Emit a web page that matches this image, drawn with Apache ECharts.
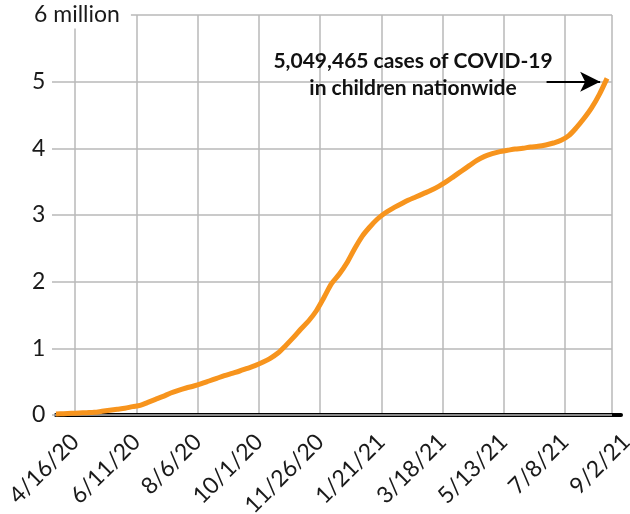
<!DOCTYPE html>
<html><head><meta charset="utf-8">
<script src="https://cdn.jsdelivr.net/npm/echarts@6/dist/echarts.min.js"></script>
<style>html,body{margin:0;padding:0;background:#fff}#c{width:630px;height:514px}</style>
</head><body><div id="c"></div>
<script>
// Cumulative child COVID-19 cases (millions), weekly reports 4/16/20 ... 9/2/21
const caseMillions = [
  0.015, 0.02, 0.025, 0.03, 0.035, 0.04, 0.055, 0.07, 0.085, 0.10,
  0.125, 0.145, 0.19, 0.235, 0.28, 0.33, 0.37, 0.405, 0.435, 0.47,
  0.51, 0.55, 0.59, 0.625, 0.66, 0.70, 0.74, 0.79, 0.85, 0.93,
  1.04, 1.16, 1.29, 1.41, 1.56, 1.76, 1.97, 2.11, 2.28, 2.49,
  2.68, 2.82, 2.94, 3.03, 3.10, 3.16, 3.22, 3.27, 3.32, 3.37,
  3.43, 3.50, 3.58, 3.66, 3.74, 3.82, 3.88, 3.92, 3.95, 3.97,
  3.99, 4.00, 4.02, 4.03, 4.05, 4.08, 4.12, 4.19, 4.31, 4.45,
  4.61, 4.81, 5.049465
];
const tickLabels = ['4/16/20','6/11/20','8/6/20','10/1/20','11/26/20','1/21/21','3/18/21','5/13/21','7/8/21','9/2/21'];
// where each date label sits along the axis, in weeks after the first report
const tickWeeks = [2.5, 10.5, 18.5, 26.5, 34.5, 42.5, 50.5, 58.5, 66.5, 74.5];
const plotEndWeek = 72.65;
const yTicks = [0, 1, 2, 3, 4, 5, 6];
const totalCasesText = '5,049,465';

const FONT = 'Lato, "Noto Sans", sans-serif';
const GRIDC = '#b8b8b8';
const lastIdx = caseMillions.length - 1;

const chart = echarts.init(document.getElementById('c'), null, {renderer: 'canvas'});
chart.setOption({
  animation: false,
  backgroundColor: '#fff',
  grid: [
    {left: 56, right: 18, top: 15, bottom: 99, outerBoundsMode: 'none', containLabel: false},
    {left: 56, right: 9, top: 15, bottom: 99, outerBoundsMode: 'none', containLabel: false},
    {left: 56, right: 0, top: 15, bottom: 99, outerBoundsMode: 'none', containLabel: false}
  ],
  xAxis: [
    {type: 'value', gridIndex: 0, min: 0, max: plotEndWeek, show: false},
    {type: 'value', gridIndex: 1, min: 0, max: 73.8, offset: 3,
      axisLine: {show: true, lineStyle: {color: '#000', width: 4}},
      axisTick: {show: false}, axisLabel: {show: false}, splitLine: {show: false}},
    {type: 'value', gridIndex: 2, min: 0, max: 75.0, z: 0,
      axisLine: {show: false},
      axisTick: {show: false, customValues: tickWeeks.slice(0, 9).concat([plotEndWeek])},
      splitLine: {show: true, lineStyle: {color: GRIDC, width: 1.5}},
      axisLabel: {
        customValues: tickWeeks, rotate: 45, margin: 23, hideOverlap: false,
        fontFamily: FONT, fontSize: 23, color: '#1a1a1a',
        formatter: v => { const i = tickWeeks.findIndex(t => Math.abs(t - v) < 1e-6); return i >= 0 ? tickLabels[i] : ''; }
      }}
  ],
  yAxis: [
    {type: 'value', gridIndex: 0, min: 0, max: 6, interval: 1, z: 1,
      axisLine: {show: false},
      axisTick: {show: true, length: 4, lineStyle: {color: GRIDC, width: 1.5}},
      axisLabel: {show: false},
      splitLine: {show: true, lineStyle: {color: GRIDC, width: 1.5}}},
    {type: 'value', gridIndex: 0, min: 0, max: 6, interval: 1, position: 'left', z: 10,
      axisLine: {show: false}, axisTick: {show: false}, splitLine: {show: false},
      axisLabel: {
        align: 'left', margin: 24,
        formatter: v => v === yTicks[yTicks.length - 1] ? '{top|' + v + ' million}' : '{n|' + v + '}',
        rich: {
          n: {fontFamily: FONT, fontSize: 23, color: '#1a1a1a'},
          top: {fontFamily: FONT, fontSize: 23, color: '#1a1a1a', backgroundColor: '#fff', padding: [2, 11, 2, 2], lineHeight: 24}
        }
      }},
    {type: 'value', gridIndex: 1, min: 0, max: 6, show: false},
    {type: 'value', gridIndex: 2, min: 0, max: 6, show: false}
  ],
  series: [{
    type: 'line', xAxisIndex: 0, yAxisIndex: 0, z: 5,
    data: caseMillions.map((v, i) => [i, v]),
    showSymbol: false, smooth: 0.3,
    lineStyle: {color: '#F7941D', width: 5},
    markLine: {
      silent: true, symbol: ['none', 'arrow'], symbolSize: [15, 20],
      label: {show: false},
      lineStyle: {color: '#000', width: 2.2, type: 'solid'},
      data: [[{coord: [lastIdx - 7.9, 5.0]}, {coord: [lastIdx - 0.9, 5.0]}]]
    }
  }],
  graphic: [{
    type: 'text', x: 413, y: 48, z: 20,
    style: {
      text: totalCasesText + ' cases of COVID-19\nin children nationwide',
      font: 'bold 21px Lato, sans-serif', fill: '#111',
      align: 'center', verticalAlign: 'top', lineHeight: 27
    }
  }]
});
</script></body></html>
